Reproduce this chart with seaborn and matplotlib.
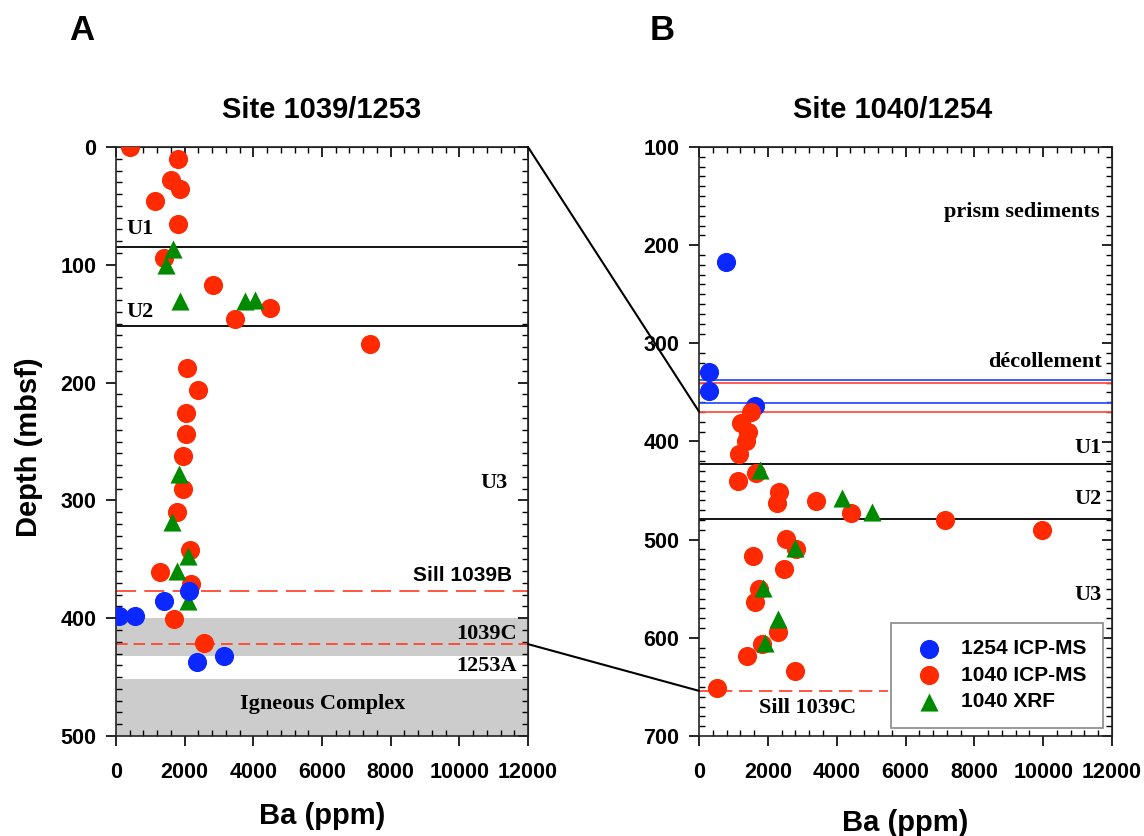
import numpy as np
import pandas as pd
import seaborn as sns
import matplotlib.pyplot as plt
from matplotlib.ticker import MultipleLocator
from matplotlib.patches import ConnectionPatch

# ---- Site 1039/1253 (panel A) ----
a_red_ba = [400, 1800, 1600, 1850, 1150, 1800, 1400, 2830, 4480, 3470, 7400,
            2070, 2380, 2050, 2050, 1960, 1960, 1770, 2150, 1280, 2170, 1700, 2570]
a_red_depth = [0, 10, 28, 36, 46, 65, 94, 117, 137, 146, 167,
               188, 206, 226, 244, 262, 290, 310, 342, 361, 371, 401, 421]
a_green_ba = [1650, 1450, 1850, 3770, 4050, 1830, 1630, 2100, 1770, 2100]
a_green_depth = [87, 100, 131, 131, 130, 278, 318, 347, 360, 385]
a_blue_ba = [2120, 1400, 90, 550, 2360, 3150]
a_blue_depth = [377, 385, 398, 398, 437, 432]

a_unit_bounds = [85, 152]
a_sill_b = 377
a_sill_c = 422
a_grey_bands = [(400, 432), (452, 500)]

# ---- Site 1040/1254 (panel B) ----
b_blue_ba = [770, 280, 280, 1620]
b_blue_depth = [217, 329, 349, 364]
b_red_ba = [1520, 1230, 1430, 1360, 1160, 1670, 1140, 2330, 2270, 3390, 4430, 7150,
            9960, 2540, 2830, 1570, 2470, 1750, 1620, 2300, 1820, 1400, 2790, 520]
b_red_depth = [370, 381, 390, 400, 413, 432, 440, 451, 463, 461, 473, 480,
               490, 499, 510, 517, 530, 550, 563, 594, 606, 619, 634, 651]
b_green_ba = [1770, 4160, 5020, 2790, 1860, 2300, 1930]
b_green_depth = [429, 458, 472, 508, 549, 581, 605]

b_blue_decol = [337, 360.5]
b_red_decol = [340, 369.5]
b_unit_bounds = [423, 479]
b_sill_c = 654

RED = "#ff2a00"
BLUE = "#0a28ff"
GREEN = "#008a00"

sns.set_style("ticks")
plt.rcParams['font.family'] = ['Liberation Sans', 'DejaVu Sans']
plt.rcParams['font.weight'] = 'bold'
plt.rcParams['axes.labelweight'] = 'bold'
plt.rcParams['axes.titleweight'] = 'bold'
for key in ['text.color', 'axes.labelcolor', 'xtick.color', 'ytick.color',
            'xtick.labelcolor', 'ytick.labelcolor']:
    plt.rcParams[key] = 'black'

W, H = 1144, 836
fig = plt.figure(figsize=(W / 100, H / 100), dpi=100)
axA = fig.add_axes([116 / W, 1 - 736 / H, 412 / W, 589 / H])
axB = fig.add_axes([699 / W, 1 - 736 / H, 413 / W, 589 / H])


def style_axes(ax, ytop, ybot):
    ax.set_xlim(0, 12000)
    ax.set_ylim(ybot, ytop)
    for loc_axis, major, minor in [(ax.xaxis, 2000, 400), (ax.yaxis, 100, 10)]:
        loc_axis.set_major_locator(MultipleLocator(major))
        loc_axis.set_minor_locator(MultipleLocator(minor))
    ax.tick_params(which='major', direction='out', length=7, width=1.2,
                   labelsize=15.5, colors='black')
    ax.tick_params(axis='x', which='major', pad=12)
    ax.tick_params(axis='y', which='major', pad=7)
    ax.tick_params(which='minor', direction='in', length=4, width=1)
    for sp in ax.spines.values():
        sp.set_linewidth(1.2)
        sp.set_color('#222222')
    top = ax.secondary_xaxis('top')
    top.xaxis.set_major_locator(MultipleLocator(2000))
    top.xaxis.set_minor_locator(MultipleLocator(400))
    top.tick_params(which='major', direction='in', length=7, width=1.2, labeltop=False)
    top.tick_params(which='minor', direction='in', length=4, width=1)
    right = ax.secondary_yaxis('right')
    right.yaxis.set_major_locator(MultipleLocator(100))
    right.yaxis.set_minor_locator(MultipleLocator(10))
    right.tick_params(which='major', direction='in', length=7, width=1.2, labelright=False)
    right.tick_params(which='minor', direction='in', length=4, width=1)


serif = dict(family=['Liberation Serif', 'DejaVu Serif'], fontweight='bold', fontsize=16)

# ---------- panel A ----------
for lo, hi in a_grey_bands:
    axA.axhspan(lo, hi, color='#cccccc', zorder=0, lw=0)
for d in a_unit_bounds:
    axA.axhline(d, color='black', lw=1.3, zorder=1)
axA.axhline(a_sill_b, color='#ff3a20', lw=1.2, ls=(0, (12, 5)), zorder=1)
axA.axhline(a_sill_c, color='#ff3a20', lw=1.2, ls=(0, (7, 3.5)), zorder=1)

sns.scatterplot(x=a_red_ba, y=a_red_depth, ax=axA, color=RED, marker='o', s=190,
                linewidth=0, zorder=3)
sns.scatterplot(x=a_green_ba, y=a_green_depth, ax=axA, color=GREEN, marker='^', s=170,
                linewidth=0, zorder=4)
sns.scatterplot(x=a_blue_ba, y=a_blue_depth, ax=axA, color=BLUE, marker='o', s=190,
                linewidth=0, zorder=5)

style_axes(axA, 0, 500)
axA.text(300, 70, "U1", ha='left', va='center', **serif)
axA.text(300, 140, "U2", ha='left', va='center', **serif)
axA.text(11400, 285, "U3", ha='right', va='center', **serif)
axA.text(11550, 364, "Sill 1039B", ha='right', va='center', fontsize=15, fontweight='bold')
axA.text(11690, 413, "1039C", ha='right', va='center', **serif)
axA.text(11690, 441, "1253A", ha='right', va='center', **serif)
axA.text(6020, 473, "Igneous Complex", ha='center', va='center', **serif)

axA.set_title("Site 1039/1253", fontsize=21, pad=21)
axA.set_xlabel("Ba (ppm)", fontsize=21)
axA.set_ylabel("Depth (mbsf)", fontsize=21)
axA.xaxis.set_label_coords(0.5, -0.112)
axA.yaxis.set_label_coords(-0.177, 0.49)

# ---------- panel B ----------
for d in b_blue_decol:
    axB.axhline(d, color='#3050ff', lw=1.3, zorder=1)
for d in b_red_decol:
    axB.axhline(d, color='#ff5040', lw=1.3, zorder=1)
for d in b_unit_bounds:
    axB.axhline(d, color='black', lw=1.3, zorder=1)
axB.plot([0, 5500], [b_sill_c, b_sill_c], color='#ff3a20', lw=1.2, ls=(0, (8, 4)), zorder=1)

sns.scatterplot(x=b_blue_ba, y=b_blue_depth, ax=axB, color=BLUE, marker='o', s=190,
                linewidth=0, zorder=3, label="1254 ICP-MS")
sns.scatterplot(x=b_red_ba, y=b_red_depth, ax=axB, color=RED, marker='o', s=190,
                linewidth=0, zorder=4, label="1040 ICP-MS")
sns.scatterplot(x=b_green_ba, y=b_green_depth, ax=axB, color=GREEN, marker='^', s=170,
                linewidth=0, zorder=5, label="1040 XRF")

style_axes(axB, 100, 700)
axB.text(11630, 166, "prism sediments", ha='right', va='center', **serif)
axB.text(11720, 319, "décollement", ha='right', va='center', **serif)
axB.text(11690, 407, "U1", ha='right', va='center', **serif)
axB.text(11690, 459, "U2", ha='right', va='center', **serif)
axB.text(11690, 556, "U3", ha='right', va='center', **serif)
axB.text(3160, 671, "Sill 1039C", ha='center', va='center', **serif)

leg = axB.legend(loc='lower right', bbox_to_anchor=(0.979, 0.0136), fontsize=15,
                 frameon=True, fancybox=False, edgecolor='#888888', framealpha=1,
                 handletextpad=0.55, labelspacing=0.36, borderpad=0.8, borderaxespad=0)
leg.get_frame().set_linewidth(1.2)
leg.set_zorder(10)

axB.set_title("Site 1040/1254", fontsize=21, pad=21, x=0.47)
axB.set_xlabel("Ba (ppm)", fontsize=21)
axB.set_ylabel("")
axB.xaxis.set_label_coords(0.5, -0.124)

# connecting lines between the panels
for dA, dB in [(0, b_red_decol[1]), (a_sill_c, b_sill_c)]:
    con = ConnectionPatch(xyA=(12000, dA), coordsA=axA.transData,
                          xyB=(0, dB), coordsB=axB.transData,
                          color='black', lw=1.5)
    fig.add_artist(con)

fig.text(69 / W, 1 - 40 / H, "A", fontsize=25, fontweight='bold', va='baseline')
fig.text(650 / W, 1 - 40 / H, "B", fontsize=25, fontweight='bold', va='baseline')

fig.savefig("out.png", dpi=100, facecolor='white')
